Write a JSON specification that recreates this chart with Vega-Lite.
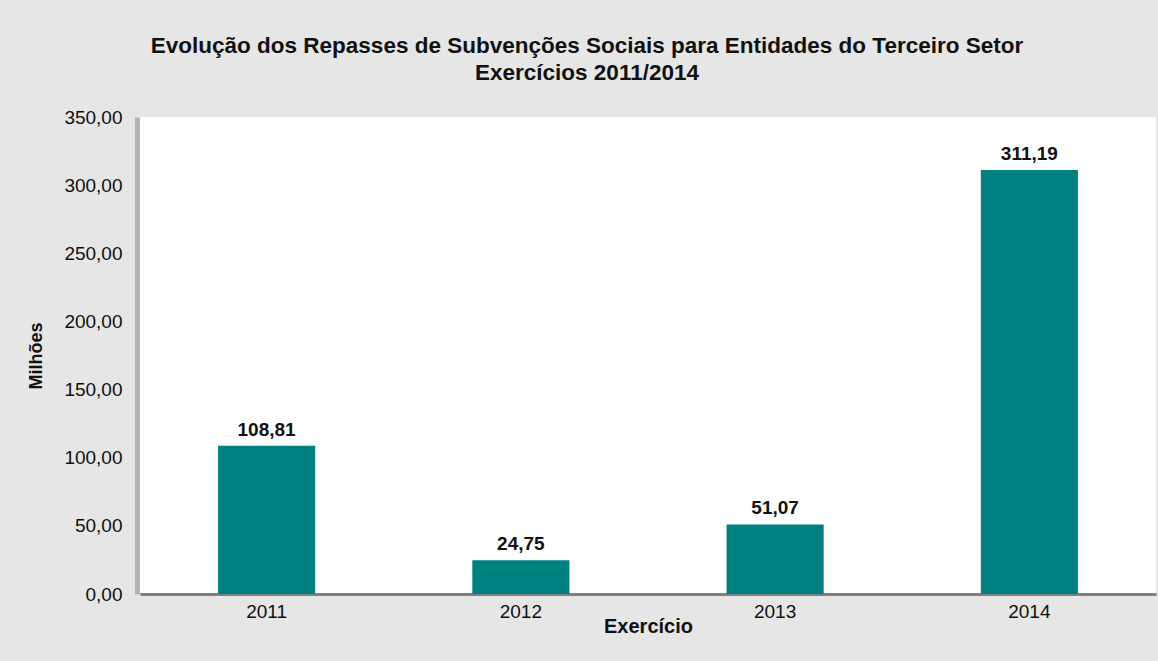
{
  "$schema": "https://vega.github.io/schema/vega-lite/v6.json",
  "autosize": "none",
  "width": 1016,
  "height": 477,
  "padding": {"left": 140, "top": 117, "right": 2, "bottom": 67},
  "background": "#e6e6e6",
  "title": {
    "text": ["Evolução dos Repasses de Subvenções Sociais para Entidades do Terceiro Setor", "Exercícios 2011/2014"],
    "font": "Liberation Sans",
    "fontSize": 22.5,
    "fontWeight": "bold",
    "color": "#111111",
    "anchor": "middle",
    "dx": -61,
    "offset": 24,
    "lineHeight": 27
  },
  "config": {
    "locale": {"number": {"decimal": ",", "thousands": ".", "grouping": [3], "currency": ["R$ ", ""]}},
    "view": {"fill": "white", "stroke": null},
    "font": "Liberation Sans"
  },
  "data": {
    "values": [
      {"ano": "2011", "valor": 108.81},
      {"ano": "2012", "valor": 24.75},
      {"ano": "2013", "valor": 51.07},
      {"ano": "2014", "valor": 311.19}
    ]
  },
  "encoding": {
    "x": {
      "field": "ano",
      "type": "nominal",
      "scale": {"paddingInner": 0.618, "paddingOuter": 0.307},
      "axis": {
        "title": "Exercício",
        "titleFontSize": 20,
        "titleFontWeight": "bold",
        "titleColor": "#111111",
        "titlePadding": -5,
        "labelAngle": 0,
        "labelFontSize": 19,
        "labelColor": "#111111",
        "labelPadding": 8,
        "ticks": false,
        "domainColor": "#808080",
        "domainWidth": 3,
        "grid": false
      }
    },
    "y": {
      "field": "valor",
      "type": "quantitative",
      "scale": {"domain": [0, 350], "nice": false},
      "axis": {
        "title": "Milhões",
        "titleFontSize": 18,
        "titleFontWeight": "bold",
        "titleColor": "#111111",
        "titlePadding": 18,
        "values": [0, 50, 100, 150, 200, 250, 300, 350],
        "format": ".2f",
        "labelFontSize": 19,
        "labelColor": "#111111",
        "labelPadding": 15,
        "offset": 3,
        "ticks": false,
        "domain": true,
        "domainColor": "#b4b4b4",
        "domainWidth": 5,
        "grid": false
      }
    }
  },
  "layer": [
    {"mark": {"type": "bar", "color": "#008080"}},
    {
      "mark": {"type": "text", "baseline": "alphabetic", "dy": -10, "fontSize": 19, "fontWeight": "bold", "color": "#111111"},
      "encoding": {"text": {"field": "valor", "type": "quantitative", "format": ".2f"}}
    }
  ]
}
